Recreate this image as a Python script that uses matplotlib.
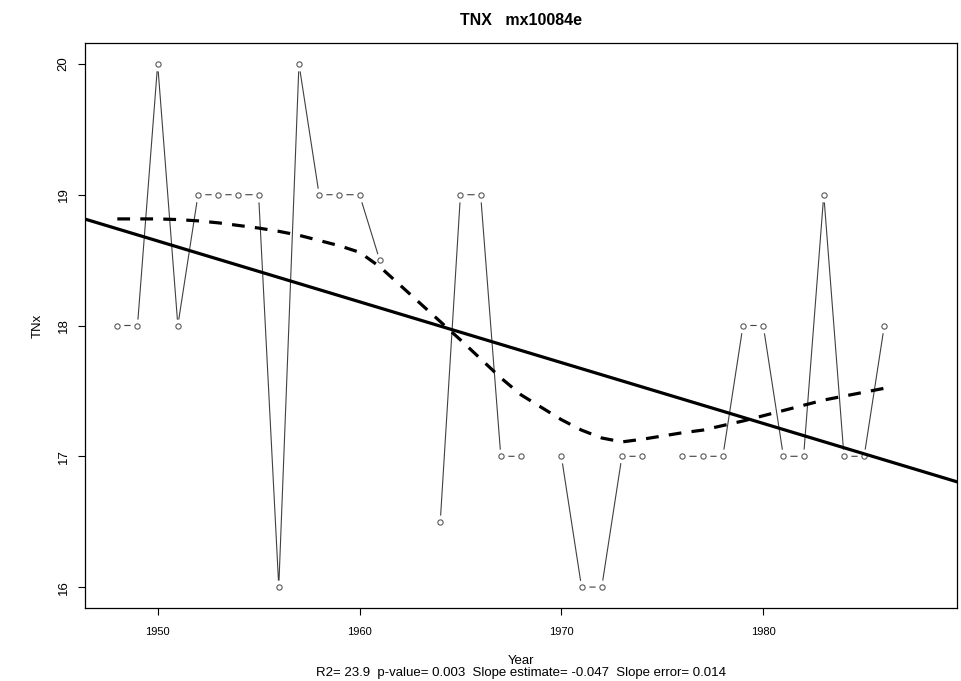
import numpy as np
import matplotlib
matplotlib.use("Agg")
import matplotlib.pyplot as plt

plt.rcParams['font.family'] = ['Liberation Sans', 'DejaVu Sans']

# data (NaN = missing year)
years = np.arange(1948, 1987)
tnx = [18, 18, 20, 18, 19, 19, 19, 19, 16, 20, 19, 19, 19, 18.5, np.nan, np.nan,
       16.5, 19, 19, 17, 17, np.nan, 17, 16, 16, 17, 17, np.nan,
       17, 17, 17, 18, 18, 17, 17, 19, 17, 17, 18]
tnx = np.array(tnx, dtype=float)

# smoothed curve at the non-missing years
smooth = [18.815, 18.815, 18.815, 18.81, 18.80, 18.785, 18.765, 18.745, 18.72, 18.69,
          18.65, 18.61, 18.56, 18.45, 18.03, 17.89, 17.745, 17.60, 17.47,
          17.28, 17.20, 17.14, 17.11, 17.13, 17.18, 17.20, 17.235, 17.27, 17.31,
          17.35, 17.39, 17.43, 17.46, 17.49, 17.52]

stats_text = "R2= 23.9  p-value= 0.003  Slope estimate= -0.047  Slope error= 0.014"

ok = ~np.isnan(tnx)
slope, intercept = np.polyfit(years[ok], tnx[ok], 1)

fig = plt.figure(figsize=(9.62, 6.81), dpi=100)
ax = fig.add_axes([85 / 962, 73 / 681, 872 / 962, 565 / 681])

# type="b" style: line with gaps around the points
ax.plot(years, tnx, color='0.25', lw=0.8, zorder=1)
ax.plot(years, tnx, ls='none', marker='o', ms=10, mfc='white', mec='none', zorder=2)
ax.plot(years, tnx, ls='none', marker='o', ms=3.8, mfc='white', mec='0.35', mew=0.8, zorder=3)

xl = (1946.4, 1989.6)
ax.plot(xl, [intercept + slope * xl[0], intercept + slope * xl[1]], color='black', lw=2.3, zorder=4)
ax.plot(years[ok], smooth, color='black', lw=2.3, dashes=(4, 3.2), zorder=4)

ax.set_xlim(xl)
ax.set_ylim(15.84, 20.16)
ax.set_xticks([1950, 1960, 1970, 1980])
ax.set_yticks([16, 17, 18, 19, 20])
ax.tick_params(direction='out', length=5, width=0.8, colors='black')
ax.tick_params(axis='x', pad=9, labelsize=8)
ax.tick_params(axis='y', pad=6, labelsize=9.5)
for lab in ax.get_yticklabels():
    lab.set_rotation(90)
    lab.set_va('center')
for s in ax.spines.values():
    s.set_linewidth(0.9)

ax.set_title("TNX   mx10084e", fontsize=11.5, fontweight='bold', pad=13)
ax.set_xlabel("Year\n" + stats_text, fontsize=9.5, linespacing=0.95, labelpad=13)
ax.set_ylabel("TNx", fontsize=9.5, labelpad=10)

plt.savefig("out.png", dpi=100)
